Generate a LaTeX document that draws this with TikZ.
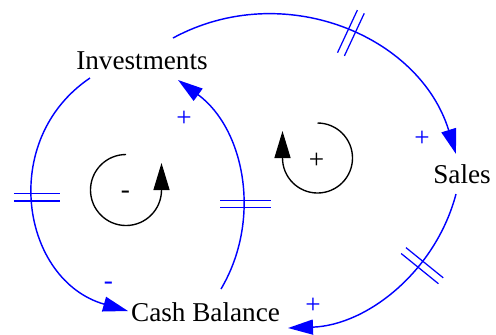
\documentclass[tikz,border=0pt]{standalone}
\usepackage{fontspec}
\setmainfont{Liberation Serif}
\usetikzlibrary{arrows.meta,decorations.markings}
\begin{document}
\begin{tikzpicture}[x=0.5pt,y=-0.5pt,
  var/.style={anchor=base,inner sep=0pt,font=\fontsize{13.6}{16}\selectfont},
  pol/.style={anchor=base,inner sep=0pt,text=blue,font=\fontsize{13.6}{16}\selectfont},
  loopsign/.style={anchor=base,inner sep=0pt,font=\fontsize{13.6}{16}\selectfont},
  link/.style={draw=blue,line width=0.72pt,-{Triangle[length=12.5pt,width=7.5pt]}},
  hashline/.style={draw=blue,line width=0.62pt,-},
  delay/.style n args={4}{postaction={decorate},decoration={markings,mark=at position #1 with {\pgftransformresetnontranslations\draw[hashline,rotate=#2] (-3.8,#3) -- (-3.8,#4) (3.8,#3) -- (3.8,#4);}}},
  loopline/.style={draw=black,line width=0.68pt,-{Triangle[length=13.5pt,width=8pt]}}
]
\useasboundingbox (0,0) rectangle (496,334);

\node[var] (inv) at (142,69) {Investments};
\node[var] (sales) at (462,183) {Sales};
\node[var] (cash) at (205.5,321) {Cash Balance};

\draw[link,delay={0.528}{155}{-23.5}{23.5}] ([shift={(31,-31)}]inv.base) .. controls +(109.6,-59.4) and +(-36.7,-119.2) .. ([shift={(-6,-29)}]sales.base);
\draw[link,delay={0.344}{51}{-21}{27}] ([shift={(-6,11)}]sales.base) .. controls +(-20.3,76.9) and +(79.4,-2.8) .. ([shift={(82.5,7)}]cash.base);
\draw[link,delay={0.468}{90}{-19.5}{26.5}] ([shift={(-52,9)}]inv.base) .. controls +(-91.9,62) and +(-106.6,-30.6) .. ([shift={(-77.5,-10)}]cash.base);
\draw[link,delay={0.38}{90}{-23}{28}] ([shift={(15.5,-32)}]cash.base) .. controls +(41.6,-70.4) and +(66,48.3) .. ([shift={(36,11)}]inv.base);

\node[pol] (p1) at (184,126) {+};
\node[pol] (p2) at (422,146) {+};
\node[pol] (p3) at (313,313) {+};
\node[pol] (p4) at (108.5,289) {-};

\node[loopsign] (l1) at (125.5,198) {-};
\node[loopsign] (l2) at (316.5,168.5) {+};

\draw[loopline] (126,154.5) arc[start angle=270,end angle=0,radius=35.5] -- ++(0,-27);
\draw[loopline] (317.5,123) arc[start angle=270,end angle=540,radius=35] -- ++(0,-27);
\end{tikzpicture}
\end{document}
